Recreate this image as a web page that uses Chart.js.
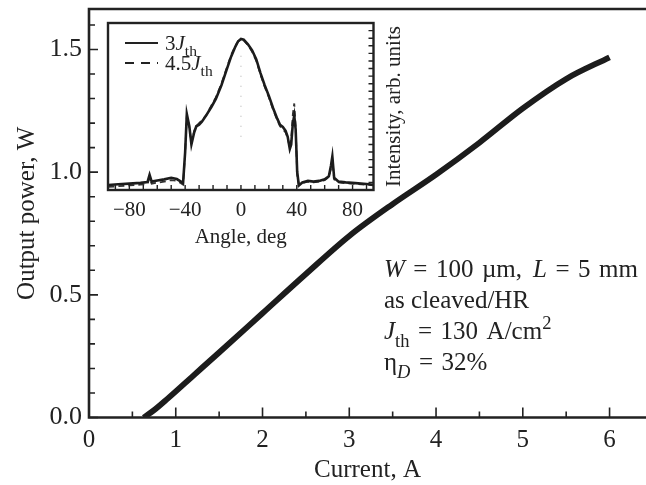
<!DOCTYPE html>
<html>
<head>
<meta charset="utf-8">
<script src="https://cdn.jsdelivr.net/npm/chart.js@4.4.1/dist/chart.umd.min.js"></script>
<style>
  html, body { margin: 0; padding: 0; background: #fff; overflow: hidden; }
  #wrap { position: relative; width: 646px; height: 485px; }
  #mainChart { position: absolute; left: 0; top: 0; }
  #insetChart { position: absolute; left: 100px; top: 15px; }
</style>
</head>
<body>
<div id="wrap">
  <canvas id="mainChart" width="646" height="485"></canvas>
  <canvas id="insetChart" width="310" height="235"></canvas>
</div>
<script>
// --- main curve: output power vs current ---
const currentA = [0.63, 0.75, 0.9, 1.2, 1.5, 2.0, 2.5, 3.0, 3.5, 4.0, 4.5, 5.0, 5.5, 6.0];
const powerW   = [0, 0.03, 0.075, 0.17, 0.265, 0.425, 0.585, 0.74, 0.87, 0.99, 1.12, 1.26, 1.38, 1.468];

// --- inset: far field ---
const angleDeg = [-95, -88, -80, -72, -67, -65.5, -64, -60, -55, -50, -46, -43, -41.5, -40, -38.8, -37, -35.5, -33.5,
  -32, -30, -28, -25, -21, -18, -14, -10, -7, -4, -2, 0, 2, 5, 8, 11, 14, 17, 20, 23, 26, 28, 30, 32, 33.5, 35,
  36, 37.2, 38.2, 39.2, 40.3, 41.5, 44, 48, 52, 56, 60, 63, 64.5, 65.5, 66.8, 70, 75, 82, 90, 95];
const intensity3J = [0.033, 0.038, 0.042, 0.047, 0.052, 0.10, 0.055, 0.062, 0.07, 0.08, 0.072, 0.055, 0.045, 0.25, 0.50, 0.42, 0.30, 0.38,
  0.42, 0.43, 0.45, 0.49, 0.55, 0.60, 0.69, 0.80, 0.88, 0.945, 0.98, 0.995, 0.99, 0.96, 0.92, 0.86, 0.77, 0.69, 0.62, 0.54, 0.47,
  0.43, 0.415, 0.39, 0.35, 0.27, 0.30, 0.44, 0.49, 0.40, 0.12, 0.03, 0.05, 0.06, 0.055, 0.06, 0.07, 0.09, 0.16, 0.22,
  0.08, 0.055, 0.05, 0.045, 0.04, 0.035];
const intensity45J = [0.02, 0.025, 0.03, 0.035, 0.04, 0.08, 0.042, 0.048, 0.055, 0.065, 0.06, 0.045, 0.035, 0.24, 0.49, 0.41, 0.31, 0.39,
  0.42, 0.44, 0.46, 0.49, 0.56, 0.61, 0.70, 0.81, 0.89, 0.95, 0.98, 0.99, 0.985, 0.955, 0.91, 0.85, 0.76, 0.68, 0.61, 0.53, 0.46,
  0.42, 0.40, 0.38, 0.34, 0.28, 0.33, 0.50, 0.57, 0.42, 0.10, 0.03, 0.045, 0.055, 0.05, 0.055, 0.065, 0.085, 0.14, 0.20,
  0.07, 0.05, 0.045, 0.04, 0.035, 0.03];
const centerAngle = [0, 0];
const centerLevel = [0.35, 0.9];

const mainTicksX = [0, 1, 2, 3, 4, 5, 6];
const insetTickLabels = [-80, -40, 0, 40, 80];

const noteLines = [
  [{t: 'W', it: true}, {gap: 1}, {t: '='}, {gap: 1}, {t: '100'}, {gap: 1}, {t: '\u00b5m,'}, {gap: 1.3}, {t: 'L', it: true}, {gap: 1}, {t: '='}, {gap: 1}, {t: '5'}, {gap: 1}, {t: 'mm'}],
  [{t: 'as cleaved/HR'}],
  [{t: 'J', it: true}, {t: 'th', sub: true}, {gap: 1}, {t: '='}, {gap: 1}, {t: '130'}, {gap: 1}, {t: 'A/cm'}, {t: '2', sup: true}],
  [{t: '\u03b7'}, {t: 'D', it: true, sub: true}, {gap: 1}, {t: '='}, {gap: 1}, {t: '32%'}]
];

const SERIF = '"Liberation Serif", "Times New Roman", serif';
const INK = '#222';

function drawRich(ctx, x, y, parts, size) {
  for (const p of parts) {
    if (p.gap) { x += p.gap * size * 0.34; continue; }
    const s = (p.sub || p.sup) ? size * 0.74 : size;
    ctx.font = (p.it ? 'italic ' : '') + s + 'px ' + SERIF;
    const dy = p.sub ? size * 0.3 : (p.sup ? -size * 0.4 : 0);
    ctx.fillText(p.t, x, y + dy);
    x += ctx.measureText(p.t).width;
  }
}

// inward ticks + frame for the main plot
const mainDecor = {
  id: 'mainDecor',
  afterDatasetsDraw(chart) {
    const {ctx, chartArea: a, scales} = chart;
    ctx.save();
    ctx.strokeStyle = INK;
    ctx.lineWidth = 1.6;
    ctx.beginPath();
    scales.x.ticks.forEach(t => {
      const px = scales.x.getPixelForValue(t.value);
      const len = Math.abs(t.value - Math.round(t.value)) < 1e-6 ? 10 : 6;
      ctx.moveTo(px, a.bottom); ctx.lineTo(px, a.bottom - len);
    });
    scales.y.ticks.forEach(t => {
      const py = scales.y.getPixelForValue(t.value);
      const len = Math.abs(t.value * 2 - Math.round(t.value * 2)) < 1e-6 ? 9 : 6;
      ctx.moveTo(a.left, py); ctx.lineTo(a.left + len, py);
    });
    ctx.stroke();
    ctx.lineWidth = 2.6;
    ctx.beginPath();
    ctx.moveTo(a.right + 2, a.top); ctx.lineTo(a.left, a.top);
    ctx.lineTo(a.left, a.bottom); ctx.lineTo(a.right + 2, a.bottom);
    ctx.stroke();

    ctx.fillStyle = INK;
    ctx.textBaseline = 'alphabetic';
    const baselines = [277, 308, 339, 370];
    noteLines.forEach((ln, i) => drawRich(ctx, 384, baselines[i], ln, 25));
    ctx.restore();
  }
};

new Chart(document.getElementById('mainChart'), {
  type: 'line',
  data: {
    datasets: [{
      data: currentA.map((c, i) => ({x: c, y: powerW[i]})),
      borderColor: '#1c1c1c',
      borderWidth: 5.8,
      pointRadius: 0,
      cubicInterpolationMode: 'monotone',
      borderCapStyle: 'butt'
    }]
  },
  options: {
    responsive: false,
    animation: false,
    layout: {padding: {top: 9, right: 0, left: 0, bottom: 0}},
    plugins: {legend: {display: false}, tooltip: {enabled: false}},
    scales: {
      x: {
        type: 'linear', min: 0, max: 6.42,
        grid: {display: false, drawTicks: false},
        border: {display: false},
        ticks: {
          stepSize: 0.5, includeBounds: false, autoSkip: false, maxRotation: 0, padding: 8,
          color: INK, font: {family: SERIF, size: 25},
          callback: v => mainTicksX.includes(v) ? String(v) : ''
        },
        title: {display: true, text: 'Current, A', color: INK, font: {family: SERIF, size: 25}, padding: {top: 2, bottom: 0}},
        afterFit: s => { s.height = 67.5; s.paddingLeft = 0; s.paddingRight = 0; }
      },
      y: {
        type: 'linear', min: 0, max: 1.665,
        grid: {display: false, drawTicks: false},
        border: {display: false},
        ticks: {
          stepSize: 0.1, includeBounds: false, autoSkip: false, padding: 7,
          color: INK, font: {family: SERIF, size: 26},
          callback: v => Math.abs(v * 2 - Math.round(v * 2)) < 1e-6 ? v.toFixed(1) : ''
        },
        title: {display: true, text: 'Output power, W', color: INK, font: {family: SERIF, size: 25}, padding: {top: 12, bottom: 0}},
        afterFit: s => { s.width = 89; s.paddingTop = 0; s.paddingBottom = 0; }
      }
    }
  },
  plugins: [mainDecor]
});

// frame, inward ticks, legend and right title for the inset
const insetDecor = {
  id: 'insetDecor',
  afterDatasetsDraw(chart) {
    const {ctx, chartArea: a, scales} = chart;
    ctx.save();
    ctx.strokeStyle = INK;
    ctx.lineWidth = 1.4;
    ctx.beginPath();
    scales.x.ticks.forEach(t => {
      const px = scales.x.getPixelForValue(t.value);
      ctx.moveTo(px, a.bottom); ctx.lineTo(px, a.bottom - 5);
    });
    for (let k = 1; k < 22; k++) {
      const py = scales.y.getPixelForValue(k * 0.05);
      ctx.moveTo(a.right, py); ctx.lineTo(a.right - 5, py);
    }
    ctx.stroke();
    ctx.lineWidth = 2.4;
    ctx.strokeRect(a.left, a.top, a.right - a.left, a.bottom - a.top);

    // legend
    ctx.lineWidth = 2.2;
    ctx.beginPath(); ctx.moveTo(a.left + 17, 28); ctx.lineTo(a.left + 50, 28); ctx.stroke();
    ctx.setLineDash([9, 7]);
    ctx.lineWidth = 1.8;
    ctx.beginPath(); ctx.moveTo(a.left + 17, 48); ctx.lineTo(a.left + 50, 48); ctx.stroke();
    ctx.setLineDash([]);
    ctx.fillStyle = INK;
    ctx.textBaseline = 'alphabetic';
    drawRich(ctx, a.left + 57, 35, [{t: '3'}, {t: 'J', it: true}, {t: 'th', sub: true}], 21);
    drawRich(ctx, a.left + 57, 55, [{t: '4.5'}, {t: 'J', it: true}, {t: 'th', sub: true}], 21);

    // right-side title
    ctx.font = '21px ' + SERIF;
    ctx.textAlign = 'center';
    ctx.translate(a.right + 26, (a.top + a.bottom) / 2);
    ctx.rotate(-Math.PI / 2);
    ctx.fillText('Intensity, arb. units', 0, 0);
    ctx.restore();
  }
};

new Chart(document.getElementById('insetChart'), {
  type: 'line',
  data: {
    datasets: [{
      data: angleDeg.map((a, i) => ({x: a, y: intensity3J[i]})),
      borderColor: '#1c1c1c', borderWidth: 2.6, pointRadius: 0, tension: 0
    }, {
      data: angleDeg.map((a, i) => ({x: a, y: intensity45J[i]})),
      borderColor: '#333', borderWidth: 1.8, borderDash: [6, 4], pointRadius: 0, tension: 0
    }, {
      data: centerAngle.map((a, i) => ({x: a, y: centerLevel[i]})),
      borderColor: '#bbb', borderWidth: 1.2, borderDash: [1, 9], pointRadius: 0
    }]
  },
  options: {
    responsive: false,
    animation: false,
    layout: {padding: {top: 8, left: 8, right: 36.5, bottom: 0}},
    plugins: {legend: {display: false}, tooltip: {enabled: false}},
    scales: {
      x: {
        type: 'linear', min: -95.3, max: 95,
        grid: {display: false, drawTicks: false},
        border: {display: false},
        ticks: {
          stepSize: 10, includeBounds: false, autoSkip: false, maxRotation: 0, padding: 8,
          color: INK, font: {family: SERIF, size: 21},
          callback: v => insetTickLabels.includes(v) ? (v < 0 ? '\u2212' + Math.abs(v) : String(v)) : ''
        },
        title: {display: true, text: 'Angle, deg', color: INK, font: {family: SERIF, size: 21}, padding: {top: 6, bottom: 0}},
        afterFit: s => { s.height = 60; s.paddingLeft = 0; s.paddingRight = 0; }
      },
      y: {type: 'linear', display: false, min: 0, max: 1.1}
    }
  },
  plugins: [insetDecor]
});
</script>
</body>
</html>
